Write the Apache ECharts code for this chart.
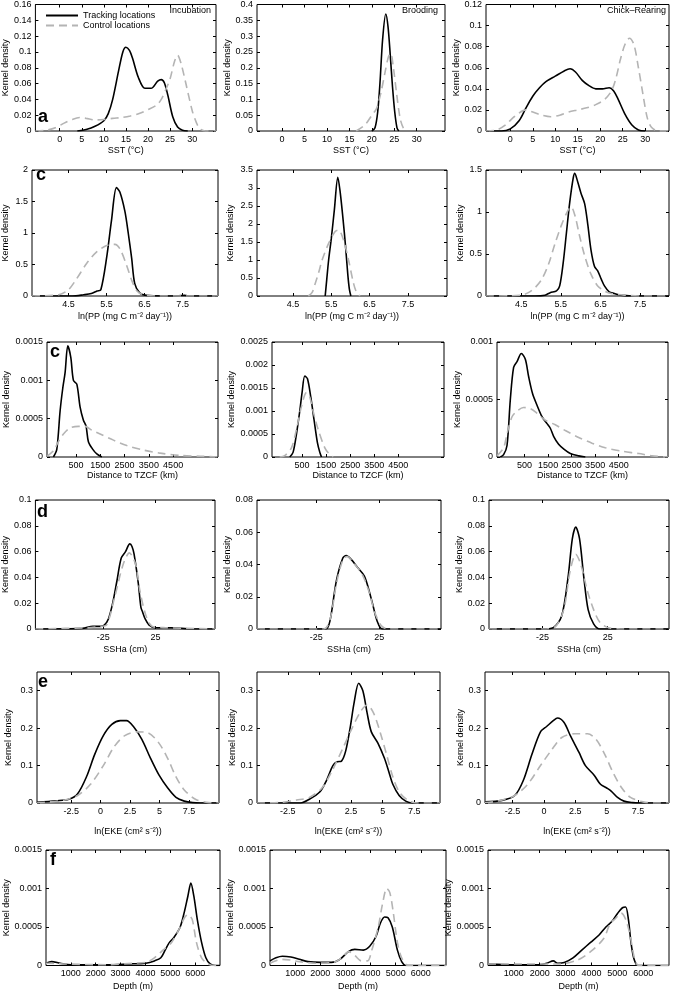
<!DOCTYPE html>
<html><head><meta charset="utf-8">
<script src="https://cdn.jsdelivr.net/npm/echarts@6/dist/echarts.min.js"></script>
<style>html,body{margin:0;padding:0;background:#fff}#c{width:673px;height:992px}</style>
</head><body><div id="c"></div><script>
// ---------- tick labels ----------
const sstTicks=[0,5,10,15,20,25,30];
const ppTicks=[4.5,5.5,6.5,7.5];
const distTicks=[500,1500,2500,3500,4500];
const sshaTicks=[-25,25];
const ekeTicks=[-2.5,0,2.5,5,7.5];
const depthTicks=[1000,2000,3000,4000,5000,6000];
const yT_016=[0,0.02,0.04,0.06,0.08,0.1,0.12,0.14,0.16];
const yT_04=[0,0.05,0.1,0.15,0.2,0.25,0.3,0.35,0.4];
const yT_012=[0,0.02,0.04,0.06,0.08,0.1,0.12];
const yT_2=[0,0.5,1,1.5,2];
const yT_35=[0,0.5,1,1.5,2,2.5,3,3.5];
const yT_15=[0,0.5,1,1.5];
const yT_0015=[0,0.0005,0.001,0.0015];
const yT_0025=[0,0.0005,0.001,0.0015,0.002,0.0025];
const yT_001=[0,0.0005,0.001];
const yT_01=[0,0.02,0.04,0.06,0.08,0.1];
const yT_008=[0,0.02,0.04,0.06,0.08];
const yT_03=[0,0.1,0.2,0.3];
const stages=['Incubation','Brooding','Chick\u2013Rearing'];
const rowLetters=['a','c','c','d','e','f'];
const xNames=['SST (\u00B0C)','ln(PP (mg C m\u207B\u00B2 day\u207B\u00B9))','Distance to TZCF (km)','SSHa (cm)','ln(EKE (cm\u00B2 s\u207B\u00B2))','Depth (m)'];
const seriesNames=['Tracking locations','Control locations'];

// ---------- series values [x, density] ----------
const sstIncT=[[4,0],[6,0.002],[8,0.006],[10,0.013],[11,0.022],[12,0.04],[13.3,0.075],[14.3,0.1],[15,0.106],[15.8,0.102],[16.5,0.092],[17.8,0.068],[19.3,0.054],[20.7,0.054],[22.2,0.063],[23,0.065],[23.7,0.061],[24.5,0.045],[25.6,0.018],[26.7,0.005],[27.8,0.001],[29,0]];
const sstIncC=[[-5.5,0],[-3,0.001],[-1,0.004],[1,0.01],[3,0.015],[4.5,0.017],[6,0.016],[8,0.014],[10,0.0145],[12,0.016],[14,0.017],[16,0.019],[18,0.022],[20,0.027],[22,0.033],[23,0.04],[24,0.052],[25,0.066],[26,0.088],[26.7,0.096],[27.5,0.085],[28.5,0.062],[30,0.026],[31,0.01],[31.7,0.003],[33,0],[35.4,0]];
const sstBroT=[[20,0],[20.7,0.01],[21.3,0.06],[21.8,0.15],[22.4,0.29],[23.1,0.37],[23.6,0.33],[24.1,0.24],[24.6,0.14],[25.1,0.06],[25.6,0.01],[26,0]];
const sstBroC=[[16.5,0],[18.5,0.02],[20,0.05],[21,0.07],[22,0.12],[23,0.19],[23.7,0.235],[24.2,0.245],[24.8,0.2],[25.5,0.12],[26.3,0.04],[27,0.01],[27.8,0]];
const sstChiT=[[-5.4,0],[-2,0],[0,0.002],[2,0.01],[3.5,0.022],[5,0.033],[6.5,0.041],[8,0.047],[10,0.052],[12,0.057],[13.3,0.059],[14.5,0.056],[16,0.048],[17.5,0.043],[19,0.04],[20.5,0.04],[22,0.041],[23,0.038],[24,0.03],[25.5,0.016],[27,0.006],[28.5,0.001],[30,0]];
const sstChiC=[[-5.4,0],[-3,0.001],[-1,0.006],[1,0.014],[3.5,0.02],[5,0.018],[7,0.015],[9,0.0135],[11,0.015],[13,0.018],[15,0.02],[17,0.022],[19,0.025],[21,0.03],[22.5,0.038],[23.5,0.05],[24.5,0.068],[25.5,0.082],[26.5,0.088],[27.5,0.082],[28.5,0.06],[29.5,0.035],[30.5,0.012],[31.5,0.003],[33,0],[35.3,0]];

const ppIncT=[[3.54,0],[4.6,0],[4.9,0.02],[5.1,0.04],[5.25,0.08],[5.35,0.1],[5.5,0.6],[5.63,1.2],[5.76,1.72],[5.85,1.65],[5.98,1.35],[6.07,1.0],[6.16,0.6],[6.24,0.2],[6.37,0.05],[6.55,0.01],[7,0],[7.4,0.005],[7.55,0.01],[7.7,0],[8.43,0]];
const ppIncC=[[3.54,0],[4.24,0.02],[4.5,0.1],[4.72,0.28],[4.98,0.52],[5.24,0.7],[5.5,0.8],[5.72,0.82],[5.85,0.75],[6.02,0.5],[6.16,0.25],[6.3,0.08],[6.47,0.02],[6.8,0],[8.43,0]];
const ppBroT=[[5.34,0],[5.38,0.45],[5.43,1.0],[5.5,1.6],[5.58,2.4],[5.67,3.3],[5.73,2.9],[5.8,2.2],[5.87,1.4],[5.93,0.6],[5.97,0.2],[6.01,0]];
const ppBroC=[[4.9,0],[5.0,0.1],[5.08,0.35],[5.17,0.65],[5.26,1.0],[5.43,1.46],[5.6,1.79],[5.69,1.83],[5.82,1.55],[5.95,1.0],[6.08,0.35],[6.16,0.1],[6.25,0]];
const ppChiT=[[3.61,0],[4.85,0],[5.1,0.01],[5.23,0.04],[5.39,0.06],[5.47,0.12],[5.56,0.4],[5.64,0.75],[5.72,1.1],[5.81,1.4],[5.85,1.46],[5.93,1.35],[6.01,1.22],[6.1,1.1],[6.18,0.85],[6.26,0.55],[6.35,0.35],[6.43,0.3],[6.52,0.2],[6.6,0.12],[6.72,0.05],[6.85,0.03],[7.0,0.01],[7.3,0],[8.23,0]];
const ppChiC=[[3.61,0],[4.2,0.002],[4.5,0.01],[4.68,0.04],[4.85,0.1],[5.02,0.2],[5.19,0.38],[5.35,0.62],[5.52,0.85],[5.68,1.02],[5.76,1.06],[5.86,0.95],[5.97,0.72],[6.1,0.48],[6.26,0.26],[6.43,0.12],[6.6,0.06],[6.77,0.03],[7.1,0.01],[7.6,0],[8.23,0]];

const distIncT=[[-436,0],[-296,0.0001],[-160,0.0006],[-49,0.0009],[46,0.0011],[158,0.00145],[281,0.0013],[389,0.001],[529,0.00095],[665,0.00065],[801,0.00048],[912,0.0004],[1007,0.0002],[1189,0.0001],[1354,0.00004],[1560,0]];
const distIncC=[[-700,0.00001],[-436,0.00008],[-229,0.0002],[-22,0.0003],[253,0.00038],[597,0.0004],[871,0.0004],[1146,0.00035],[1490,0.0003],[2040,0.00022],[2590,0.00015],[3277,0.00009],[3964,0.00005],[4789,0.00002],[5614,0.00001],[6350,0]];
const distBroT=[[-13,0],[125,0.0001],[267,0.0005],[404,0.001],[500,0.0014],[613,0.00176],[725,0.0017],[863,0.0013],[1000,0.0008],[1142,0.0003],[1238,0.0001],[1308,0]];
const distBroC=[[-429,0],[-221,0.00003],[58,0.0002],[267,0.0006],[475,0.0011],[683,0.0014],[821,0.0013],[958,0.001],[1167,0.0006],[1446,0.0002],[1654,0.00005],[1792,0]];
const distChiT=[[-534,0],[-394,0.00002],[-249,0.0001],[-108,0.0005],[32,0.00078],[177,0.00083],[360,0.0009],[530,0.00085],[670,0.0007],[840,0.00055],[1028,0.00045],[1240,0.00035],[1453,0.00029],[1594,0.00025],[1734,0.00018],[1947,0.00011],[2159,0.00007],[2445,0.00003],[2798,0.00001],[3083,0]];
const distChiC=[[-674,0.00001],[-394,0.00008],[-249,0.0002],[-36,0.00035],[177,0.0004],[457,0.00043],[743,0.00042],[1028,0.00038],[1381,0.00032],[1806,0.00028],[2232,0.00023],[2798,0.00017],[3368,0.00012],[3934,0.00008],[4644,0.00005],[5351,0.00003],[5921,0.00001],[6600,0]];

const sshaIncT=[[-90,0],[-45,0.0005],[-35,0.002],[-28,0.002],[-24,0.003],[-20,0.008],[-16,0.02],[-12,0.037],[-7.8,0.055],[-3.7,0.06],[0.4,0.066],[2.5,0.064],[4.5,0.058],[8.6,0.035],[11,0.017],[12.7,0.013],[15,0.008],[18.9,0.003],[25,0.001],[40,0.001],[60,0],[82,0]];
const sshaIncC=[[-90,0],[-40,0.001],[-28,0.002],[-22,0.003],[-14,0.025],[-6,0.05],[0,0.059],[6,0.05],[10,0.03],[16,0.01],[22,0.002],[35,0.001],[82,0]];
const sshaBroT=[[-72,0],[-17.5,0],[-14.1,0.005],[-9,0.03],[-3.9,0.044],[-1.2,0.0455],[2.9,0.043],[8,0.038],[13.1,0.033],[16.5,0.025],[19.9,0.015],[23.3,0.005],[27.4,0],[74,0]];
const sshaBroC=[[-72,0],[-19,0],[-14,0.006],[-9,0.028],[-3.9,0.043],[-0.5,0.045],[4.6,0.041],[11.4,0.034],[16.5,0.024],[21.6,0.01],[26.7,0.002],[32,0],[74,0]];
const sshaChiT=[[-66,0],[-25,0],[-16.8,0.001],[-10.3,0.01],[-5.4,0.04],[-2.1,0.07],[0.5,0.079],[3.4,0.07],[6.7,0.04],[10,0.015],[14.2,0.004],[19.1,0],[72,0]];
const sshaChiC=[[-66,0],[-25,0],[-15,0.002],[-8.7,0.015],[-3.8,0.045],[0.5,0.058],[4.4,0.05],[9.3,0.03],[14.2,0.015],[19.1,0.005],[25.6,0.001],[35,0],[72,0]];

const ekeIncT=[[-5.4,0.002],[-3.8,0.006],[-2.7,0.01],[-1.95,0.025],[-1.2,0.07],[-0.5,0.13],[0.23,0.18],[0.95,0.21],[1.68,0.22],[2.2,0.22],[2.77,0.205],[3.5,0.17],[4.23,0.12],[4.95,0.075],[5.7,0.04],[6.4,0.015],[7.1,0.005],[7.8,0.001],[8.5,0],[10.05,0]];
const ekeIncC=[[-5.4,0],[-3.05,0.008],[-1.95,0.02],[-0.86,0.05],[0.23,0.1],[1.14,0.15],[2.05,0.18],[3.14,0.19],[4.05,0.187],[4.95,0.16],[5.68,0.12],[6.4,0.07],[7.1,0.035],[8.05,0.01],[8.95,0.002],[9.7,0],[10.05,0]];
const ekeBroT=[[-4.94,0],[-1.5,0],[-0.8,0.01],[0.04,0.03],[0.55,0.06],[1.06,0.1],[1.4,0.11],[1.74,0.112],[2.08,0.14],[2.42,0.2],[2.75,0.27],[3.1,0.32],[3.43,0.3],[3.77,0.24],[4.1,0.19],[4.62,0.16],[5.13,0.12],[5.47,0.085],[5.8,0.05],[6.3,0.02],[6.82,0.005],[7.33,0],[9.53,0]];
const ekeBroC=[[-4.94,0],[-3.2,0.001],[-1.8,0.008],[-0.8,0.015],[0.2,0.04],[1.06,0.09],[1.9,0.15],[2.58,0.2],[3.26,0.245],[3.77,0.262],[4.28,0.24],[4.79,0.19],[5.3,0.13],[5.8,0.07],[6.3,0.03],[7.0,0.007],[7.8,0],[9.53,0]];
const ekeChiT=[[-4.7,0.003],[-3.35,0.007],[-2.33,0.02],[-1.65,0.06],[-0.96,0.13],[-0.28,0.19],[0.23,0.205],[0.74,0.22],[1.08,0.227],[1.6,0.215],[2.1,0.18],[2.79,0.135],[3.3,0.1],[3.98,0.075],[4.5,0.05],[5.0,0.04],[5.35,0.032],[5.86,0.015],[6.37,0.005],[7.06,0.001],[7.6,0],[9.96,0]];
const ekeChiC=[[-4.7,0.001],[-3.7,0.005],[-2.33,0.02],[-1.3,0.05],[-0.28,0.1],[0.57,0.14],[1.42,0.175],[2.45,0.185],[3.47,0.185],[4.15,0.17],[4.84,0.13],[5.52,0.08],[6.2,0.04],[6.89,0.015],[7.9,0.003],[8.9,0],[9.96,0]];

const depIncT=[[0,0.00003],[224,0.00005],[569,0.00003],[1000,0.00001],[2466,0.00001],[3328,0.00002],[4017,0.00003],[4362,0.00006],[4620,0.0001],[4793,0.0002],[4966,0.0003],[5138,0.00036],[5397,0.0005],[5569,0.0007],[5707,0.0009],[5828,0.00107],[5948,0.0009],[6086,0.0006],[6259,0.0003],[6431,0.0001],[6603,0.00002],[6800,0],[7000,0]];
const depIncC=[[0,0.00003],[739,0.00002],[2466,0.00001],[3500,0.00003],[4017,0.00004],[4362,0.0001],[4707,0.0002],[5052,0.0003],[5397,0.0005],[5569,0.00062],[5707,0.00066],[5880,0.0006],[6052,0.0003],[6259,0.0001],[6517,0.00002],[6800,0],[7000,0]];
const depBroT=[[0,0.00006],[237,0.0001],[492,0.00012],[830,0.00011],[1169,0.00008],[1508,0.00005],[2017,0.00004],[2441,0.00004],[2780,0.00008],[3119,0.00018],[3373,0.00021],[3712,0.0002],[3966,0.00025],[4220,0.00038],[4390,0.00055],[4559,0.00063],[4695,0.00062],[4864,0.0005],[5068,0.0002],[5237,0.00005],[5407,0],[7000,0]];
const depBroC=[[0,0.00003],[492,0.00008],[830,0.00007],[1169,0.00005],[1847,0.00003],[2525,0.00004],[2864,0.0001],[3119,0.00018],[3373,0.00013],[3627,0.00006],[3881,0.00006],[4051,0.0002],[4305,0.0005],[4475,0.0008],[4644,0.001],[4763,0.00095],[4898,0.0007],[5068,0.0003],[5237,0.0001],[5492,0],[7000,0]];
const depChiT=[[0,0.00002],[1000,0.00001],[1932,0.00001],[2271,0.00003],[2525,0.00006],[2695,0.00003],[2949,0.00004],[3288,0.0001],[3627,0.0002],[3966,0.0003],[4305,0.0004],[4559,0.0005],[4814,0.00058],[5017,0.00068],[5200,0.00075],[5322,0.00076],[5430,0.0006],[5530,0.0003],[5650,0.00008],[5800,0],[7000,0]];
const depChiC=[[0,0.00002],[2780,0.00002],[3458,0.00007],[3966,0.00018],[4475,0.00035],[4729,0.00055],[4898,0.0006],[5153,0.00068],[5322,0.0006],[5492,0.0004],[5661,0.0001],[5831,0],[7000,0]];

// ---------- layout (not data) ----------
const FONT='"Liberation Sans", Arial, Helvetica, sans-serif';
const rows=[
 {top:2,bottom:131,xgap:15,xt:sstTicks,cols:[
   {l:32,r:216,x:[-5.5,35.4],yt:yT_016,yg:21,T:sstIncT,C:sstIncC},
   {l:257,r:445,x:[-5.6,36.3],yt:yT_04,yg:21.5,T:sstBroT,C:sstBroC},
   {l:486,r:669,x:[-5.4,35.3],yt:yT_012,yg:23,T:sstChiT,C:sstChiC}]},
 {top:170,bottom:296,xgap:16,xt:ppTicks,cols:[
   {l:32,r:218,x:[3.54,8.43],yt:yT_2,yg:21.5,T:ppIncT,C:ppIncC},
   {l:257,r:447,x:[3.56,8.52],yt:yT_35,yg:21.5,T:ppBroT,C:ppBroC},
   {l:486,r:669,x:[3.61,8.23],yt:yT_15,yg:20.5,T:ppChiT,C:ppChiC}]},
 {top:342,bottom:457,xgap:14.5,xt:distTicks,cols:[
   {l:47,r:218,x:[-700,6350],yt:yT_0015,yg:35.5,T:distIncT,C:distIncC},
   {l:272,r:444,x:[-750,6400],yt:yT_0025,yg:35.5,T:distBroT,C:distBroC},
   {l:497,r:668,x:[-675,6600],yt:yT_001,yg:34,T:distChiT,C:distChiC}]},
 {top:500,bottom:629,xgap:16.5,xt:sshaTicks,cols:[
   {l:34,r:215,x:[-90,82],yt:yT_01,yg:24,T:sshaIncT,C:sshaIncC},
   {l:257,r:441,x:[-72,74],yt:yT_008,yg:24,T:sshaBroT,C:sshaBroC},
   {l:489,r:669,x:[-66,72],yt:yT_01,yg:22,T:sshaChiT,C:sshaChiC}]},
 {top:672,bottom:803,xgap:24,xt:ekeTicks,cols:[
   {l:37,r:219,x:[-5.4,10.05],yt:yT_03,yg:24,T:ekeIncT,C:ekeIncC},
   {l:257,r:440,x:[-4.94,9.53],yt:yT_03,yg:18,T:ekeBroT,C:ekeBroC},
   {l:485,r:669,x:[-4.7,9.96],yt:yT_03,yg:18,T:ekeChiT,C:ekeChiC}]},
 {top:850,bottom:967,xgap:16.5,xt:depthTicks,cols:[
   {l:46,r:220,x:[0,7000],yt:yT_0015,yg:33,T:depIncT,C:depIncC},
   {l:270,r:446,x:[0,7000],yt:yT_0015,yg:32,T:depBroT,C:depBroC},
   {l:488,r:669,x:[0,7000],yt:yT_0015,yg:32,T:depChiT,C:depChiC}]}
];
const rowYmax=[[0.16,0.4,0.12],[2,3.5,1.5],[0.0015,0.0025,0.001],[0.1,0.08,0.1],[0.35,0.35,0.35],[0.0015,0.0015,0.0015]];

const grid=[],xAxis=[],yAxis=[],series=[],graphic=[];
const txt={fontSize:9,color:'#000',fontFamily:FONT};
const fmt=v=>String(v);
let gi=0;
rows.forEach((row,ri)=>{
  row.cols.forEach((c,ci)=>{
    grid.push({left:c.l,top:row.top,width:c.r-c.l,height:row.bottom-row.top,show:true,borderColor:'#000',borderWidth:1,backgroundColor:'transparent'});
    const tick={show:true,inside:true,length:3,lineStyle:{color:'#000',width:1}};
    const line={show:false,onZero:false};
    xAxis.push({gridIndex:gi,type:'value',min:c.x[0],max:c.x[1],position:'bottom',
      axisLine:line,splitLine:{show:false},
      axisTick:Object.assign({customValues:row.xt},tick),
      axisLabel:Object.assign({customValues:row.xt,margin:4,formatter:fmt},txt),
      name:xNames[ri],nameLocation:'middle',nameGap:row.xgap,nameTextStyle:txt});
    xAxis.push({gridIndex:gi,type:'value',min:c.x[0],max:c.x[1],position:'top',
      axisLine:line,splitLine:{show:false},
      axisTick:Object.assign({customValues:row.xt},tick),axisLabel:{show:false}});
    yAxis.push({gridIndex:gi,type:'value',min:0,max:rowYmax[ri][ci],position:'left',
      axisLine:line,splitLine:{show:false},
      axisTick:Object.assign({customValues:c.yt},tick),
      axisLabel:Object.assign({customValues:c.yt,margin:4,formatter:fmt},txt),
      name:'Kernel density',nameLocation:'middle',nameGap:c.yg,nameTextStyle:txt});
    yAxis.push({gridIndex:gi,type:'value',min:0,max:rowYmax[ri][ci],position:'right',
      axisLine:line,splitLine:{show:false},
      axisTick:Object.assign({customValues:c.yt},tick),axisLabel:{show:false}});
    series.push({name:seriesNames[0],type:'line',xAxisIndex:2*gi,yAxisIndex:2*gi,data:c.T,color:'#000',
      showSymbol:false,symbol:'none',smooth:0.3,clip:true,lineStyle:{color:'#000',width:1.6}});
    series.push({name:seriesNames[1],type:'line',xAxisIndex:2*gi,yAxisIndex:2*gi,data:c.C,color:'#b4b4b4',
      showSymbol:false,symbol:'none',smooth:0.3,clip:true,lineStyle:{color:'#b4b4b4',width:1.6,type:[8,5]}});
    gi++;
  });
});
// panel letters
const letterPos=[[38,108],[36,166],[50,343],[37,503],[38,673],[50,851]];
rowLetters.forEach((L,i)=>graphic.push({type:'text',left:letterPos[i][0],top:letterPos[i][1],
  style:{text:L,fontSize:18,fontWeight:'bold',fill:'#000',fontFamily:FONT}}));
// stage titles (inside top-right of first row)
const titleRight=[211,438,666];
stages.forEach((s,i)=>graphic.push({type:'text',right:673-titleRight[i],top:6,
  style:{text:s,fontSize:9,fill:'#000',fontFamily:FONT}}));

const chart=echarts.init(document.getElementById('c'),null,{renderer:'canvas'});
chart.setOption({
  animation:false,backgroundColor:'#fff',
  grid,xAxis,yAxis,series,graphic,
  legend:{data:seriesNames,left:45,top:11,padding:0,orient:'vertical',itemWidth:32,itemHeight:11,itemGap:1,
    textStyle:txt,itemStyle:{opacity:0}}
});
</script></body></html>
